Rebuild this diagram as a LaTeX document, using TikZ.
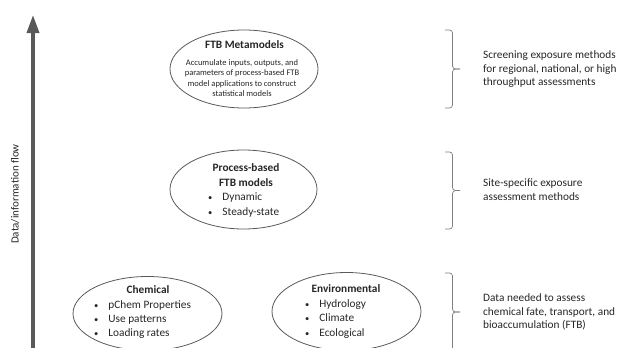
\documentclass[tikz,border=0pt]{standalone}
\usepackage{fontspec}
\setmainfont{Carlito}
\usetikzlibrary{arrows.meta,shapes.geometric}
\definecolor{linegray}{HTML}{595959}
\definecolor{bracegray}{HTML}{7F7F7F}
\definecolor{txt}{HTML}{262626}
\newcommand{\bul}{{\fontsize{8.5}{8.5}\selectfont •}}
\begin{document}
\begin{tikzpicture}[x=1pt,y=-1pt,
  oval/.style={draw=linegray,line width=0.8pt,ellipse,inner sep=0pt},
  ttl/.style={font=\fontsize{11.3}{14.5}\selectfont\bfseries,text=txt,inner sep=0pt,anchor=base,align=center},
  body/.style={font=\fontsize{11.3}{13.6}\selectfont,text=txt,inner sep=0pt,anchor=base west},
  small/.style={font=\fontsize{8.5}{10.3}\selectfont,text=txt,inner sep=0pt,anchor=base,align=center},
  bracedraw/.style={draw=bracegray,line width=0.7pt,rounded corners=3pt},
  flow/.style={draw=linegray,line width=3.5pt,-{Triangle[length=18pt,width=12pt]}}
]
\useasboundingbox (0,0) rectangle (624,348);

% flow arrow
\coordinate (abot) at (33,352);
\coordinate (atop) at (33,15);
\draw[flow] (abot) -- (atop);
\node[rotate=90,font=\fontsize{11}{13}\selectfont,text=txt,inner sep=0pt] (flowlbl) at (15,194) {Data/information flow};

% ellipses
\node[oval,minimum width=148pt,minimum height=78pt] (meta) at (244,69) {};
\node[oval,minimum width=147pt,minimum height=79pt] (proc) at (243.5,189.5) {};
\node[oval,minimum width=149pt,minimum height=74pt] (chem) at (147.5,313.5) {};
\node[oval,minimum width=149pt,minimum height=78pt] (env) at (346.5,311.5) {};

% meta text
\node[ttl] (metat) at (244.5,48.5) {FTB Metamodels};
\node[small] (metab) at (242,65.5) {\begin{tabular}[t]{@{}c@{}}Accumulate inputs, outputs, and\\parameters of process-based FTB\\model applications to construct\\statistical models\end{tabular}};

% process text
\node[ttl] (proct) at (246,171.5) {\begin{tabular}[t]{@{}c@{}}Process-based\\FTB models\end{tabular}};
\node[body] (procl) at (208,200.5) {\fontsize{11.3}{14.8}\selectfont\begin{tabular}[t]{@{}l@{\hspace{10pt}}l@{}}\bul&Dynamic\\\bul&Steady-state\end{tabular}};

% chemical text
\node[ttl] (chemt) at (148,293.5) {Chemical};
\node[body] (cheml) at (94,308.5) {\fontsize{11.3}{13.8}\selectfont\begin{tabular}[t]{@{}l@{\hspace{10pt}}l@{}}\bul&pChem Properties\\\bul&Use patterns\\\bul&Loading rates\end{tabular}};

% environmental text
\node[ttl] (envt) at (346,292.5) {Environmental};
\node[body] (envl) at (305,307) {\fontsize{11.3}{14.5}\selectfont\begin{tabular}[t]{@{}l@{\hspace{10pt}}l@{}}\bul&Hydrology\\\bul&Climate\\\bul&Ecological\end{tabular}};

% braces (Word-style: hooks at the ends, small tip at the middle)
\coordinate (b1t) at (445,30);  \coordinate (b1m) at (460,69);    \coordinate (b1b) at (445,108);
\coordinate (b2t) at (445,152); \coordinate (b2m) at (460,190.5); \coordinate (b2b) at (445,229);
\coordinate (b3t) at (445,273); \coordinate (b3m) at (460,312);   \coordinate (b3b) at (445,351);
\foreach \b in {1,2,3}{
  \draw[bracedraw] (b\b t) -| ([xshift=-7.5pt]b\b m) -- (b\b m);
  \draw[bracedraw] (b\b b) -| ([xshift=-7.5pt]b\b m) -- (b\b m);
}

% right texts
\node[body] (r1) at (483,58.5) {\begin{tabular}[t]{@{}l@{}}Screening exposure methods\\for regional, national, or high\\throughput assessments\end{tabular}};
\node[body] (r2) at (483,186.5) {\begin{tabular}[t]{@{}l@{}}Site-specific exposure\\assessment methods\end{tabular}};
\node[body] (r3) at (483,301.5) {\begin{tabular}[t]{@{}l@{}}Data needed to assess\\chemical fate, transport, and\\bioaccumulation (FTB)\end{tabular}};
\end{tikzpicture}
\end{document}
